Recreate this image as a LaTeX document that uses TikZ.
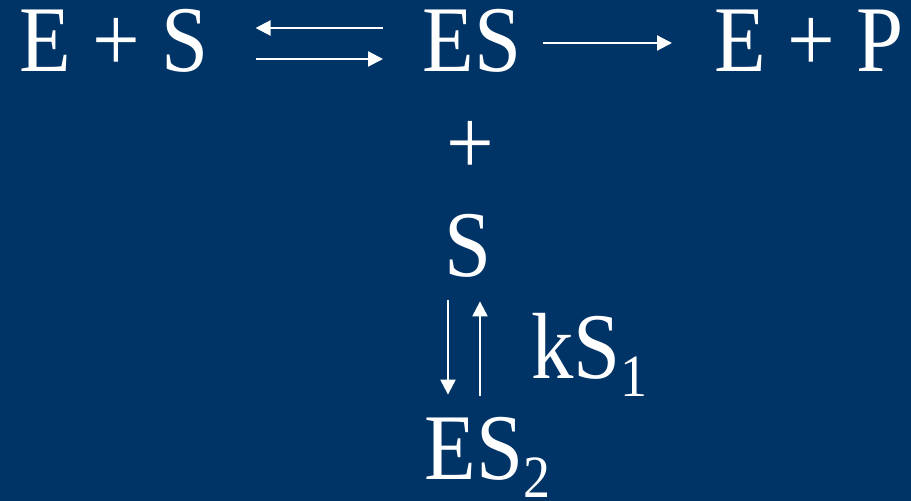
\documentclass[tikz,border=0pt]{standalone}
\usepackage{fontspec}
\setmainfont{Liberation Serif}[FakeStretch=0.9]
\usepackage{xcolor}
\usetikzlibrary{arrows.meta}
\definecolor{slideblue}{HTML}{003366}

\begin{document}
\begin{tikzpicture}[x=0.5pt, y=-0.5pt,
  species/.style={text=white, font=\fontsize{47}{50}\selectfont, inner sep=0pt,
    text height=29pt, text depth=0pt},
  rxn/.style={draw=white, line width=1.1pt, -{Triangle[length=7.5pt, width=7.5pt]}}]
\newcommand{\subidx}[1]{\raisebox{-9pt}{\fontsize{30}{32}\selectfont #1}}
% background
\useasboundingbox[fill=slideblue] (0,0) rectangle (911,501);
% top row
\node[species, anchor=base west] (es1) at (19,72) {E + S};
\node[species, anchor=base west] (es) at (422,72) {ES};
\node[species, anchor=base west] (ep) at (714,72) {E + P};
\draw[rxn, shorten <=19.5pt, shorten >=23.5pt] ([yshift=7.5pt]es.west) -- ([yshift=7.5pt]es1.east);
\draw[rxn, shorten <=23.5pt, shorten >=19.5pt] ([yshift=-8pt]es1.east) -- ([yshift=-8pt]es.west);
\draw[rxn, shorten <=10.5pt, shorten >=21pt] (es) -- (ep);
% second substrate
\node[species, anchor=base] (plus) at (470,175) {+};
\node[species, anchor=base] (s) at (468,277) {S};
\node[species, anchor=base west] (es2) at (424,480) {ES\subidx{2}};
\node[species, anchor=base west] (k) at (531,379) {kS\subidx{1}};
% inhibition equilibrium
\coordinate (dn) at ([xshift=-10pt]s.south);
\coordinate (up) at ([xshift=6pt]s.south);
\draw[rxn, shorten <=11.5pt, shorten >=13.5pt] (dn) -- (dn |- es2.north);
\draw[rxn, shorten <=13pt, shorten >=12pt] (up |- es2.north) -- (up);
\end{tikzpicture}
\end{document}
